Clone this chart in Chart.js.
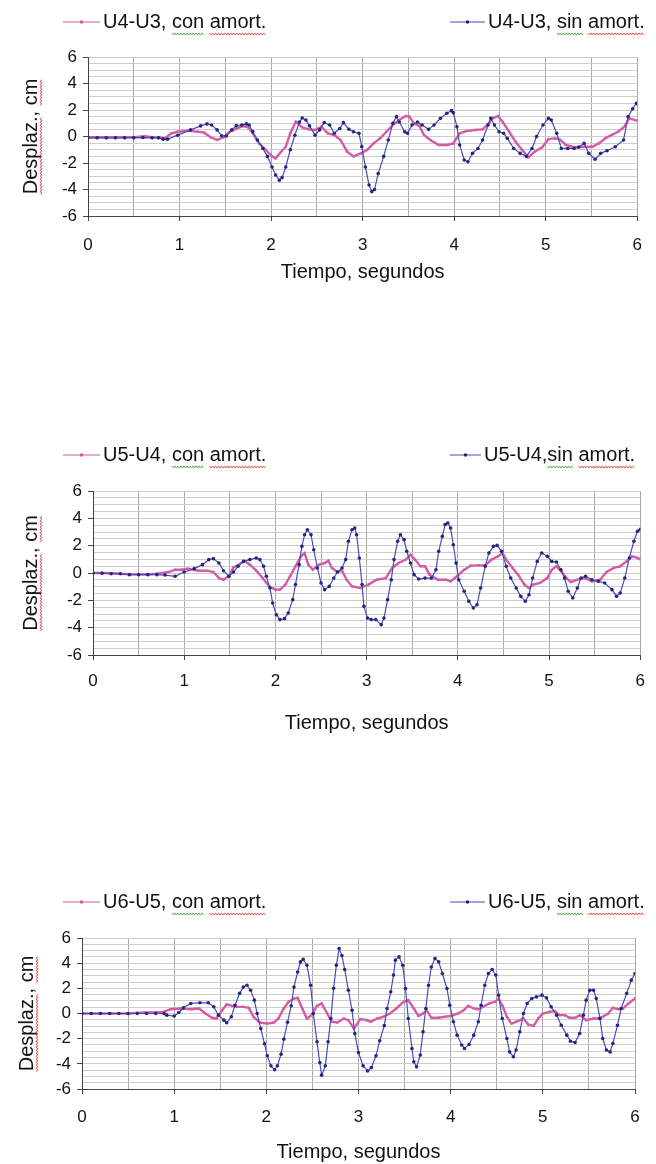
<!doctype html>
<html lang="es">
  <head>
    <meta charset="UTF-8" />
    <title>Desplazamientos relativos de entrepiso</title>
    <script src="https://cdn.jsdelivr.net/npm/chart.js@4.4.1/dist/chart.umd.min.js"></script>
    <style>
      body {
        margin: 0;
        background: #fff;
      }
      .wrap {
        position: relative;
        width: 656px;
        height: 1164px;
      }
      canvas {
        position: absolute;
        left: 0;
      }
    </style>
  </head>
  <body>
    <div class="wrap">
      <canvas id="chart_u43" width="656" height="290" style="top: 0"></canvas>
      <canvas id="chart_u54" width="656" height="310" style="top: 430px"></canvas>
      <canvas id="chart_u65" width="656" height="294" style="top: 870px"></canvas>
    </div>

    <script>
      // tick labels
      const xTickLabels = [0, 1, 2, 3, 4, 5, 6];
      const yTickLabels = [-6, -4, -2, 0, 2, 4, 6];

      // series names
      const labelsU43 = ["U4-U3, con amort.", "U4-U3, sin amort."];
      const labelsU54 = ["U5-U4, con amort.", "U5-U4,sin amort."];
      const labelsU65 = ["U6-U5, con amort.", "U6-U5, sin amort."];

      // U4-U3 con amortiguadores (tiempo s, desplazamiento cm)
      const tU43con = [0, 0.1, 0.2, 0.3, 0.4, 0.5, 0.62, 0.7, 0.78, 0.84, 0.91, 0.98, 1.09, 1.2, 1.27, 1.34, 1.41, 1.48, 1.55, 1.62, 1.69, 1.75, 1.8, 1.87, 1.94, 2.01, 2.05, 2.1, 2.16, 2.21, 2.27, 2.34, 2.41, 2.48, 2.55, 2.62, 2.69, 2.76, 2.83, 2.9, 2.98, 3.05, 3.12, 3.19, 3.26, 3.33, 3.4, 3.47, 3.51, 3.56, 3.62, 3.67, 3.74, 3.83, 3.92, 3.99, 4.06, 4.13, 4.22, 4.31, 4.37, 4.42, 4.48, 4.53, 4.6, 4.67, 4.74, 4.81, 4.88, 4.96, 5.03, 5.1, 5.15, 5.22, 5.29, 5.36, 5.43, 5.51, 5.58, 5.65, 5.72, 5.79, 5.86, 5.91, 5.97, 6.0];
      const vU43con = [-0.06, -0.06, -0.06, -0.06, -0.05, -0.05, 0.03, -0.05, -0.08, -0.14, 0.24, 0.36, 0.44, 0.36, 0.29, -0.06, -0.26, -0.06, 0.36, 0.59, 0.79, 0.69, 0.24, -0.52, -1.0, -1.5, -1.65, -1.22, -0.77, 0.24, 1.12, 0.69, 0.54, 0.49, 0.74, 0.24, 0.11, -0.26, -1.14, -1.5, -1.27, -1.0, -0.52, -0.14, 0.36, 0.87, 1.25, 1.55, 1.5, 1.0, 0.8, 0.11, -0.26, -0.64, -0.64, -0.52, 0.24, 0.41, 0.49, 0.54, 0.94, 1.37, 1.55, 1.1, 0.36, -0.39, -1.0, -1.57, -1.14, -0.82, -0.2, -0.14, -0.2, -0.64, -0.77, -0.82, -0.77, -0.77, -0.52, -0.14, 0.11, 0.36, 0.74, 1.37, 1.25, 1.2];

      // U4-U3 sin amortiguadores
      const tU43sin = [0, 0.1, 0.2, 0.3, 0.4, 0.5, 0.6, 0.7, 0.77, 0.82, 0.87, 0.98, 1.12, 1.23, 1.3, 1.35, 1.41, 1.46, 1.51, 1.57, 1.62, 1.68, 1.73, 1.76, 1.8, 1.85, 1.91, 1.96, 2.01, 2.05, 2.09, 2.12, 2.16, 2.21, 2.26, 2.31, 2.34, 2.38, 2.42, 2.48, 2.53, 2.58, 2.64, 2.69, 2.75, 2.79, 2.85, 2.9, 2.96, 2.99, 3.03, 3.07, 3.1, 3.13, 3.17, 3.23, 3.28, 3.33, 3.37, 3.4, 3.46, 3.49, 3.54, 3.6, 3.65, 3.72, 3.78, 3.85, 3.92, 3.97, 3.99, 4.03, 4.06, 4.11, 4.15, 4.2, 4.26, 4.31, 4.37, 4.4, 4.44, 4.49, 4.54, 4.58, 4.65, 4.72, 4.79, 4.85, 4.9, 4.97, 5.03, 5.06, 5.12, 5.17, 5.24, 5.31, 5.36, 5.42, 5.47, 5.54, 5.6, 5.67, 5.76, 5.85, 5.9, 5.95, 5.99];
      const vU43sin = [-0.1, -0.1, -0.1, -0.1, -0.1, -0.1, -0.08, -0.1, -0.1, -0.2, -0.2, 0.1, 0.5, 0.8, 0.95, 0.87, 0.5, 0.06, 0.04, 0.5, 0.82, 0.87, 0.95, 0.87, 0.37, -0.26, -0.9, -1.5, -2.3, -2.9, -3.3, -3.1, -2.3, -1.0, 0.1, 1.1, 1.4, 1.25, 0.8, 0.1, 0.5, 1.05, 0.87, 0.24, 0.6, 1.05, 0.55, 0.36, 0.24, -0.77, -2.3, -3.66, -4.16, -4.0, -2.8, -1.5, -0.26, 1.0, 1.5, 1.1, 0.36, 0.24, 0.87, 1.1, 0.87, 0.54, 0.87, 1.37, 1.75, 1.95, 1.8, 0.74, -0.64, -1.77, -1.9, -1.27, -0.9, -0.26, 0.87, 1.37, 0.87, 0.36, 0.24, -0.14, -0.9, -1.27, -1.5, -0.9, 0.0, 0.87, 1.37, 1.25, 0.24, -0.9, -0.9, -0.9, -0.8, -0.52, -1.27, -1.72, -1.27, -1.07, -0.77, -0.26, 1.5, 2.1, 2.5];

      // U5-U4 con amortiguadores
      const tU54con = [0, 0.1, 0.2, 0.3, 0.4, 0.5, 0.6, 0.7, 0.83, 0.9, 0.97, 1.04, 1.15, 1.25, 1.32, 1.38, 1.43, 1.49, 1.54, 1.61, 1.66, 1.72, 1.79, 1.86, 1.93, 2.0, 2.05, 2.11, 2.16, 2.22, 2.28, 2.32, 2.36, 2.41, 2.48, 2.54, 2.58, 2.62, 2.68, 2.73, 2.78, 2.84, 2.93, 3.02, 3.11, 3.21, 3.28, 3.35, 3.43, 3.48, 3.53, 3.59, 3.64, 3.69, 3.78, 3.87, 3.92, 3.99, 4.07, 4.14, 4.23, 4.3, 4.37, 4.44, 4.49, 4.53, 4.6, 4.66, 4.73, 4.78, 4.83, 4.9, 4.98, 5.03, 5.08, 5.14, 5.19, 5.24, 5.31, 5.39, 5.47, 5.56, 5.63, 5.71, 5.78, 5.85, 5.91, 5.97, 6.0];
      const vU54con = [0, 0, -0.02, -0.05, -0.1, -0.1, -0.1, -0.05, 0.07, 0.24, 0.24, 0.32, 0.17, 0.17, 0.07, -0.37, -0.49, -0.24, 0.41, 0.66, 0.9, 0.61, 0.17, -0.37, -0.98, -1.22, -1.22, -0.85, -0.24, 0.49, 1.22, 1.46, 0.61, 0.24, 0.61, 0.73, 0.9, 0.37, 0.07, 0.17, -0.49, -0.98, -1.1, -0.85, -0.49, -0.37, 0.37, 0.73, 0.98, 1.34, 0.98, 0.49, 0.49, -0.12, -0.49, -0.49, -0.61, -0.24, 0.24, 0.54, 0.56, 0.56, 0.98, 1.22, 1.46, 0.98, 0.37, -0.12, -0.85, -1.1, -0.85, -0.73, -0.37, 0.24, 0.49, 0.07, -0.37, -0.66, -0.49, -0.37, -0.61, -0.49, 0.07, 0.37, 0.49, 0.85, 1.22, 1.1, 1.0];

      // U5-U4 sin amortiguadores
      const tU54sin = [0, 0.1, 0.2, 0.3, 0.4, 0.5, 0.6, 0.7, 0.79, 0.9, 1.0, 1.11, 1.2, 1.27, 1.32, 1.38, 1.43, 1.49, 1.54, 1.59, 1.65, 1.72, 1.79, 1.83, 1.87, 1.9, 1.94, 1.97, 2.01, 2.05, 2.1, 2.14, 2.19, 2.22, 2.26, 2.29, 2.32, 2.35, 2.39, 2.42, 2.46, 2.5, 2.54, 2.59, 2.64, 2.68, 2.73, 2.77, 2.8, 2.84, 2.87, 2.89, 2.92, 2.95, 2.97, 3.01, 3.05, 3.1, 3.16, 3.19, 3.23, 3.27, 3.3, 3.34, 3.37, 3.41, 3.44, 3.48, 3.52, 3.57, 3.64, 3.71, 3.76, 3.79, 3.83, 3.86, 3.89, 3.92, 3.95, 3.98, 4.01, 4.07, 4.12, 4.17, 4.21, 4.25, 4.3, 4.34, 4.39, 4.43, 4.48, 4.53, 4.58, 4.64, 4.69, 4.74, 4.78, 4.82, 4.87, 4.92, 4.98, 5.03, 5.08, 5.13, 5.17, 5.21, 5.26, 5.31, 5.35, 5.4, 5.47, 5.54, 5.61, 5.69, 5.74, 5.78, 5.83, 5.88, 5.93, 5.97, 6.0];
      const vU54sin = [0, -0.02, -0.05, -0.05, -0.12, -0.12, -0.12, -0.12, -0.15, -0.24, 0.07, 0.32, 0.61, 0.98, 1.05, 0.73, 0.17, -0.24, 0.07, 0.49, 0.85, 0.98, 1.1, 0.98, 0.49, -0.24, -1.1, -2.2, -3.05, -3.41, -3.34, -2.93, -1.95, -0.85, 0.61, 1.95, 2.8, 3.17, 2.8, 1.7, 0.37, -0.73, -1.22, -0.98, -0.37, 0.07, 0.37, 0.98, 2.32, 3.17, 3.29, 2.8, 1.1, -0.85, -2.44, -3.3, -3.41, -3.41, -3.78, -3.3, -1.95, -0.49, 0.98, 2.32, 2.8, 2.44, 1.59, 0.73, -0.12, -0.44, -0.37, -0.37, 0.24, 1.59, 2.68, 3.54, 3.66, 3.29, 2.07, 0.73, -0.49, -1.34, -2.07, -2.56, -2.32, -1.1, 0.49, 1.46, 1.95, 2.02, 1.59, 0.49, -0.37, -1.1, -1.71, -2.07, -1.59, -0.37, 0.85, 1.46, 1.22, 0.85, 0.8, 0.24, -0.37, -1.34, -1.83, -1.1, -0.37, -0.24, -0.49, -0.61, -0.73, -1.22, -1.71, -1.46, -0.37, 1.1, 2.32, 3.05, 3.2];

      // U6-U5 con amortiguadores
      const tU65con = [0, 0.1, 0.2, 0.3, 0.4, 0.5, 0.6, 0.68, 0.75, 0.89, 0.96, 1.07, 1.18, 1.27, 1.34, 1.41, 1.46, 1.52, 1.57, 1.63, 1.68, 1.75, 1.81, 1.86, 1.93, 2.01, 2.08, 2.13, 2.19, 2.24, 2.3, 2.34, 2.39, 2.44, 2.49, 2.55, 2.6, 2.66, 2.71, 2.77, 2.84, 2.89, 2.95, 3.02, 3.09, 3.13, 3.2, 3.27, 3.34, 3.41, 3.49, 3.54, 3.6, 3.65, 3.7, 3.74, 3.79, 3.87, 3.94, 4.01, 4.08, 4.14, 4.19, 4.25, 4.3, 4.35, 4.42, 4.48, 4.52, 4.56, 4.61, 4.66, 4.71, 4.79, 4.84, 4.9, 4.95, 5.0, 5.07, 5.13, 5.18, 5.24, 5.29, 5.35, 5.4, 5.47, 5.55, 5.6, 5.65, 5.71, 5.76, 5.82, 5.87, 5.93, 6.0];
      const vU65con = [0, 0, 0, 0, 0, 0, 0.05, 0.08, 0.08, 0.13, 0.34, 0.4, 0.34, 0.4, 0.0, -0.34, -0.4, 0.26, 0.72, 0.61, 0.53, 0.53, 0.45, -0.26, -0.72, -0.8, -0.72, -0.4, 0.4, 0.93, 1.19, 1.24, 0.4, -0.4, -0.13, 0.61, 0.8, 0.0, -0.66, -0.72, -0.4, -0.53, -1.2, -0.45, -0.53, -0.66, -0.4, -0.26, 0.0, 0.4, 0.93, 1.06, 0.4, -0.19, 0.0, 0.26, -0.34, -0.34, -0.26, -0.19, 0.0, 0.26, 0.61, 0.4, 0.34, 0.53, 0.8, 0.93, 1.19, 0.66, -0.26, -0.8, -0.66, -0.4, -0.87, -0.98, -0.4, 0.0, 0.13, 0.19, -0.13, -0.13, -0.34, -0.34, -0.13, -0.53, -0.4, -0.4, -0.26, 0.0, 0.45, 0.34, 0.4, 0.8, 1.19];

      // U6-U5 sin amortiguadores
      const tU65sin = [0, 0.1, 0.2, 0.3, 0.4, 0.5, 0.6, 0.7, 0.8, 0.89, 0.92, 1.0, 1.05, 1.1, 1.18, 1.28, 1.37, 1.43, 1.48, 1.54, 1.57, 1.62, 1.66, 1.71, 1.75, 1.79, 1.83, 1.87, 1.9, 1.94, 1.98, 2.01, 2.05, 2.09, 2.12, 2.16, 2.19, 2.23, 2.27, 2.3, 2.34, 2.37, 2.4, 2.44, 2.48, 2.51, 2.55, 2.58, 2.6, 2.64, 2.67, 2.7, 2.73, 2.76, 2.79, 2.82, 2.85, 2.89, 2.93, 2.96, 3.0, 3.05, 3.1, 3.14, 3.19, 3.23, 3.28, 3.31, 3.35, 3.38, 3.4, 3.44, 3.48, 3.51, 3.54, 3.58, 3.6, 3.63, 3.67, 3.7, 3.73, 3.76, 3.79, 3.83, 3.87, 3.91, 3.96, 3.99, 4.03, 4.07, 4.12, 4.15, 4.2, 4.25, 4.3, 4.33, 4.37, 4.41, 4.45, 4.49, 4.52, 4.56, 4.61, 4.64, 4.68, 4.71, 4.75, 4.79, 4.83, 4.88, 4.93, 4.99, 5.04, 5.09, 5.15, 5.2, 5.26, 5.3, 5.35, 5.4, 5.44, 5.47, 5.51, 5.55, 5.58, 5.62, 5.65, 5.69, 5.73, 5.76, 5.81, 5.85, 5.91, 5.96, 6.0];
      const vU65sin = [0, 0, 0, 0, 0, 0, 0, 0, 0, 0, -0.13, -0.2, 0.08, 0.45, 0.8, 0.85, 0.85, 0.53, -0.13, -0.53, -0.74, -0.26, 0.66, 1.6, 2.1, 2.25, 1.85, 1.06, 0.0, -1.2, -2.4, -3.36, -4.16, -4.47, -4.16, -3.23, -2.04, -0.7, 0.62, 2.1, 3.3, 4.1, 4.3, 3.84, 2.25, 0.0, -2.25, -3.9, -4.9, -4.16, -2.25, -0.4, 2.0, 3.84, 5.17, 4.6, 3.5, 1.85, 0.26, -1.6, -3.1, -4.16, -4.56, -4.3, -3.36, -2.17, -0.96, 0.4, 1.72, 3.05, 4.24, 4.5, 3.84, 1.99, -0.4, -2.78, -3.84, -4.24, -3.3, -1.46, 0.4, 2.25, 3.7, 4.37, 4.1, 3.18, 1.99, 0.66, -0.66, -1.72, -2.5, -2.78, -2.46, -1.72, -0.66, 0.66, 2.25, 3.18, 3.5, 3.05, 1.46, -0.4, -1.99, -3.05, -3.44, -2.9, -1.46, 0.0, 0.8, 1.19, 1.32, 1.46, 1.24, 0.53, -0.13, -0.93, -1.72, -2.2, -2.3, -1.59, -0.13, 1.06, 1.85, 1.85, 1.19, -0.4, -1.99, -2.9, -3.05, -2.38, -0.93, 0.4, 1.6, 2.65, 3.18];

      const FONT = '"Liberation Sans", Arial, sans-serif';
      const PINK = "#d45ca5";
      const BLUE_LINE = "#4a4db8";
      const BLUE_DOT = "#23277f";

      function points(t, v) {
        return t.map((x, i) => ({ x: x, y: v[i] }));
      }

      function squiggle(ctx, x0, x1, y, color) {
        ctx.save();
        ctx.strokeStyle = color;
        ctx.lineWidth = 0.8;
        ctx.beginPath();
        let k = 0;
        for (let x = x0; x <= x1; x += 1.5, k++) {
          const yy = y + (k % 2 ? 1.1 : -1.1);
          if (k === 0) ctx.moveTo(x, yy);
          else ctx.lineTo(x, yy);
        }
        ctx.stroke();
        ctx.restore();
      }

      // legend drawn as two separate entries (left and right), like the original
      const pairLegend = {
        id: "pairLegend",
        afterDraw(chart, args, opts) {
          const ctx = chart.ctx;
          ctx.save();
          ctx.font = "20px " + FONT;
          ctx.textBaseline = "middle";
          chart.data.datasets.forEach((ds, i) => {
            const it = opts.items[i];
            ctx.strokeStyle = ds.borderColor;
            ctx.lineWidth = 1;
            ctx.beginPath();
            ctx.moveTo(it.x0, opts.y);
            ctx.lineTo(it.x1, opts.y);
            ctx.stroke();
            ctx.fillStyle = ds.pointBackgroundColor;
            ctx.beginPath();
            ctx.arc((it.x0 + it.x1) / 2, opts.y, 1.8, 0, Math.PI * 2);
            ctx.fill();
            const tx = it.x1 + 3;
            ctx.fillStyle = "#111";
            ctx.fillText(ds.label, tx, opts.y);
            [["con", "#3c9a3c"], ["sin", "#3c9a3c"], ["amort.", "#d33"]].forEach(([w, c]) => {
              const k = ds.label.indexOf(w);
              if (k < 0) return;
              const a = tx + ctx.measureText(ds.label.slice(0, k)).width;
              squiggle(ctx, a, a + ctx.measureText(w).width, opts.y + 12, c);
            });
          });

          // spell-check marks under the y title
          const area = chart.chartArea;
          const yTitle = chart.options.scales.y.title;
          const cx = chart.scales.y.left + 12 + yTitle.padding.top;
          const cy = (area.top + area.bottom) / 2;
          ctx.translate(cx, cy);
          ctx.rotate(-Math.PI / 2);
          const full = yTitle.text;
          const w = ctx.measureText(full).width;
          ["Desplaz.", "cm"].forEach((word) => {
            const k = full.indexOf(word);
            const a = -w / 2 + ctx.measureText(full.slice(0, k)).width;
            squiggle(ctx, a, a + ctx.measureText(word).width, 10, "#d33");
          });
          ctx.restore();
        },
      };

      function makeChart(id, con, sin, labels, box) {
        const ctx = document.getElementById(id).getContext("2d");
        return new Chart(ctx, {
          type: "line",
          data: {
            datasets: [
              {
                label: labels[0],
                data: points(con.t, con.v),
                borderColor: PINK,
                backgroundColor: PINK,
                pointBackgroundColor: PINK,
                pointBorderWidth: 0,
                pointRadius: 1.3,
                borderWidth: 2.4,
                tension: 0,
                order: 1,
              },
              {
                label: labels[1],
                data: points(sin.t, sin.v),
                borderColor: BLUE_LINE,
                backgroundColor: BLUE_DOT,
                pointBackgroundColor: BLUE_DOT,
                pointBorderWidth: 0,
                pointRadius: 1.8,
                borderWidth: 1.2,
                tension: 0,
                order: 0,
              },
            ],
          },
          options: {
            responsive: false,
            animation: false,
            events: [],
            layout: {
              padding: { top: box.plotTop, right: box.padRight, left: 0, bottom: 0 },
            },
            plugins: {
              legend: { display: false },
              tooltip: { enabled: false },
              pairLegend: { y: box.legendY, items: box.legendX },
            },
            scales: {
              x: {
                type: "linear",
                min: 0,
                max: 6,
                afterFit: (s) => {
                  s.height = box.xAxisH;
                },
                ticks: {
                  stepSize: 0.5,
                  autoSkip: false,
                  maxRotation: 0,
                  padding: box.xTickPad,
                  color: "#111",
                  font: { family: FONT, size: 17 },
                  callback: (v) => (xTickLabels.includes(v) ? String(v) : ""),
                },
                grid: {
                  color: "#a8a8a8",
                  tickLength: 5,
                  tickColor: (c) =>
                    c.tick && xTickLabels.includes(c.tick.value) ? "#444" : "rgba(0,0,0,0)",
                },
                border: { color: "#444" },
                title: {
                  display: true,
                  text: "Tiempo, segundos",
                  color: "#111",
                  font: { family: FONT, size: 20 },
                  padding: { top: 0, bottom: box.xTitlePad },
                },
              },
              y: {
                min: -6,
                max: 6,
                afterFit: (s) => {
                  s.width = box.yAxisW;
                },
                ticks: {
                  stepSize: 0.5,
                  autoSkip: false,
                  padding: 6,
                  color: "#111",
                  font: { family: FONT, size: 17 },
                  callback: (v) => (yTickLabels.includes(v) ? String(v) : ""),
                },
                grid: {
                  color: "#cdcdcd",
                  tickLength: 5,
                  tickColor: (c) =>
                    c.tick && yTickLabels.includes(c.tick.value) ? "#444" : "rgba(0,0,0,0)",
                },
                border: { color: "#444" },
                title: {
                  display: true,
                  text: "Desplaz., cm",
                  color: "#111",
                  font: { family: FONT, size: 20 },
                  padding: { top: box.yTitlePad, bottom: 0 },
                },
              },
            },
          },
          plugins: [pairLegend],
        });
      }

      makeChart(
        "chart_u43",
        { t: tU43con, v: vU43con },
        { t: tU43sin, v: vU43sin },
        labelsU43,
        {
          plotTop: 57, padRight: 7, yAxisW: 88, xAxisH: 74,
          xTickPad: 14, xTitlePad: 6, yTitlePad: 19,
          legendY: 22, legendX: [{ x0: 63, x1: 100 }, { x0: 450, x1: 485 }],
        }
      );

      makeChart(
        "chart_u54",
        { t: tU54con, v: vU54con },
        { t: tU54sin, v: vU54sin },
        labelsU54,
        {
          plotTop: 61, padRight: 4, yAxisW: 93, xAxisH: 85,
          xTickPad: 11, xTitlePad: 5, yTitlePad: 19,
          legendY: 25, legendX: [{ x0: 63, x1: 100 }, { x0: 450, x1: 481 }],
        }
      );

      makeChart(
        "chart_u65",
        { t: tU65con, v: vU65con },
        { t: tU65sin, v: vU65sin },
        labelsU65,
        {
          plotTop: 68, padRight: 21, yAxisW: 82, xAxisH: 75,
          xTickPad: 13, xTitlePad: 0, yTitlePad: 15,
          legendY: 32, legendX: [{ x0: 63, x1: 100 }, { x0: 450, x1: 485 }],
        }
      );
    </script>
  </body>
</html>
